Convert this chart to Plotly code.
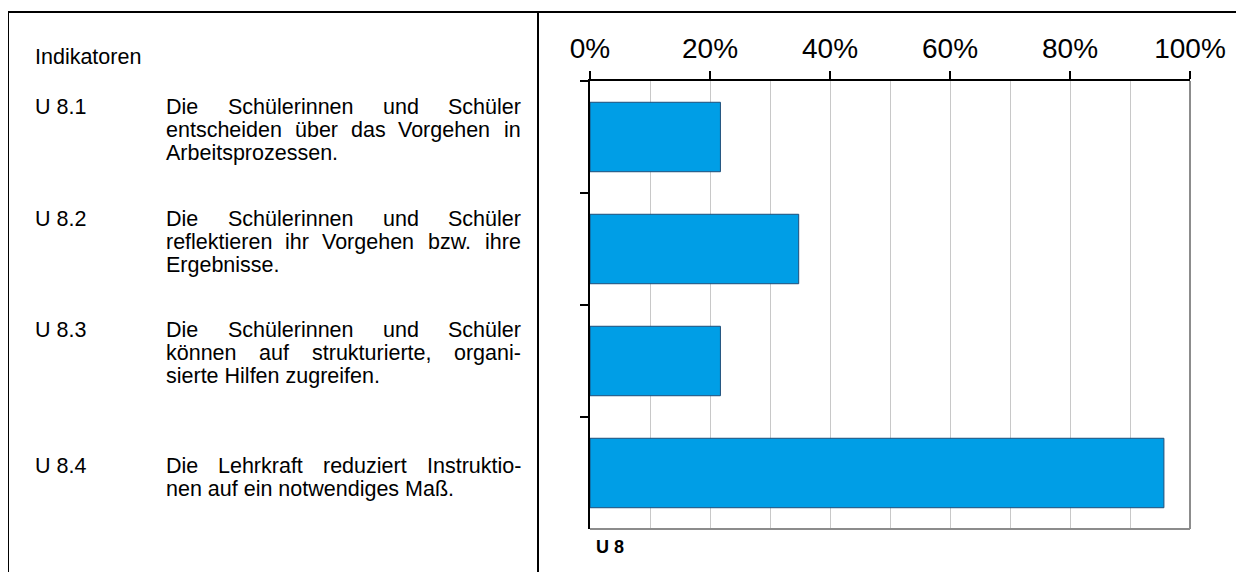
import plotly.graph_objects as go

# ---- data ----
categories = ["U 8.1", "U 8.2", "U 8.3", "U 8.4"]
values = [5 / 23, 8 / 23, 5 / 23, 22 / 23]
x_tick_vals = [0, 0.2, 0.4, 0.6, 0.8, 1.0]
x_tick_text = ["0%", "20%", "40%", "60%", "80%", "100%"]
header = "Indikatoren"
group_label = "U 8"
indicator_lines = [
    ["Die Schülerinnen und Schüler", "entscheiden über das Vorgehen in", "Arbeitsprozessen."],
    ["Die Schülerinnen und Schüler", "reflektieren ihr Vorgehen bzw. ihre", "Ergebnisse."],
    ["Die Schülerinnen und Schüler", "können auf strukturierte, organi-", "sierte Hilfen zugreifen."],
    ["Die Lehrkraft reduziert Instruktio-", "nen auf ein notwendiges Maß."],
]

# ---- layout geometry (screen pixels; page body has an 8px margin) ----
OFF = 8
W, H = 1244, 572
PX0, PX1 = 590, 1190   # plot area x (screen)
PY0, PY1 = 81, 529     # plot area y (screen)
FONT = "Liberation Sans, Arial, sans-serif"
TXT_SIZE = 21.5
LINE_H = 23
PAD = 3
COL_X0, COL_X1 = 167, 522
LABEL_X = 36
block_y = [107, 219, 330, 466]

# Arial advance widths (per 1000 em) for justification
AW = {' ': 278, '.': 278, ',': 278, '-': 333, 'a': 556, 'b': 556, 'c': 500, 'd': 556, 'e': 556,
      'f': 278, 'g': 556, 'h': 556, 'i': 222, 'j': 222, 'k': 500, 'l': 222, 'm': 833, 'n': 556,
      'o': 556, 'p': 556, 'q': 556, 'r': 333, 's': 500, 't': 278, 'u': 556, 'v': 500, 'w': 722,
      'x': 500, 'y': 500, 'z': 500, 'ä': 556, 'ö': 556, 'ü': 556, 'ß': 611, 'A': 667, 'D': 722,
      'E': 667, 'S': 667, 'V': 667, 'I': 278, 'L': 556, 'M': 833, 'H': 722, 'U': 722}


def tw(s, size):
    return sum(AW.get(c, 556) for c in s) * size / 1000.0


def px_to_paper(x, y):
    return (x - PX0) / (PX1 - PX0), (PY1 - y) / (PY1 - PY0)


fig = go.Figure()
fig.add_trace(go.Bar(
    y=categories, x=values, orientation="h", width=0.62,
    marker=dict(color="#009EE6", line=dict(color="#1F4E79", width=1)),
    hoverinfo="skip",
))

annotations = []


def add_text(text, x, y, anchor="left", size=TXT_SIZE, bold=False):
    xp, yp = px_to_paper(x - PAD, y)
    annotations.append(dict(
        text=("<b>%s</b>" % text) if bold else text, x=xp, y=yp, xref="paper", yref="paper",
        xanchor=anchor, yanchor="middle", showarrow=False,
        font=dict(family=FONT, size=size, color="black"),
    ))


add_text(header, LABEL_X, 57)
for bi, (cat, lines) in enumerate(zip(categories, indicator_lines)):
    y0 = block_y[bi]
    add_text(cat, LABEL_X, y0)
    for li, line in enumerate(lines):
        y = y0 + li * LINE_H
        last = li == len(lines) - 1
        words = line.split(" ")
        if last or len(words) == 1:
            add_text(line, COL_X0, y)
        else:
            wsum = sum(tw(w, TXT_SIZE) for w in words)
            gap = (COL_X1 - COL_X0 - wsum) / (len(words) - 1)
            x = COL_X0
            for w in words:
                add_text(w, x, y)
                x += tw(w, TXT_SIZE) + gap

add_text(group_label, 597, 547, size=18, bold=True)

shapes = []


def add_line(x0, y0, x1, y1, color="black", width=2):
    a, b = px_to_paper(x0, y0)
    c, d = px_to_paper(x1, y1)
    shapes.append(dict(type="line", xref="paper", yref="paper", x0=a, y0=b, x1=c, y1=d,
                       line=dict(color=color, width=width), layer="above"))


# outer frame
add_line(8, 12, W + 20, 12)
add_line(8, 12, 8, H + 20)
add_line(538, 12, 538, H + 20)
# plot border right/bottom
add_line(PX1, PY0, PX1, PY1, color="#8c8c8c", width=2)
add_line(PX0, PY1, PX1, PY1, color="#8c8c8c", width=2)

fig.update_layout(
    width=W, height=H,
    margin=dict(l=PX0 - OFF, r=W - (PX1 - OFF), t=PY0 - OFF, b=H - (PY1 - OFF)),
    paper_bgcolor="white", plot_bgcolor="white",
    showlegend=False,
    annotations=annotations, shapes=shapes,
    xaxis=dict(
        side="top", range=[0, 1], tickmode="array", tickvals=x_tick_vals, ticktext=x_tick_text,
        ticks="outside", ticklen=8, tickwidth=2, tickcolor="black",
        showline=True, linecolor="black", linewidth=2,
        showgrid=True, gridcolor="#c8c8c8", gridwidth=1,
        minor=dict(dtick=0.1, tick0=0, showgrid=True, gridcolor="#c8c8c8", gridwidth=1, ticks=""),
        tickfont=dict(family=FONT, size=28, color="black"),
        ticklabelstandoff=2,
        zeroline=False, fixedrange=True,
    ),
    yaxis=dict(
        autorange="reversed", type="category", showticklabels=False,
        tickson="boundaries", ticks="outside", ticklen=8, tickwidth=2, tickcolor="black",
        showline=True, linecolor="black", linewidth=2, showgrid=False, zeroline=False,
        fixedrange=True,
    ),
    bargap=0.38,
)

fig.write_html("out.html")
